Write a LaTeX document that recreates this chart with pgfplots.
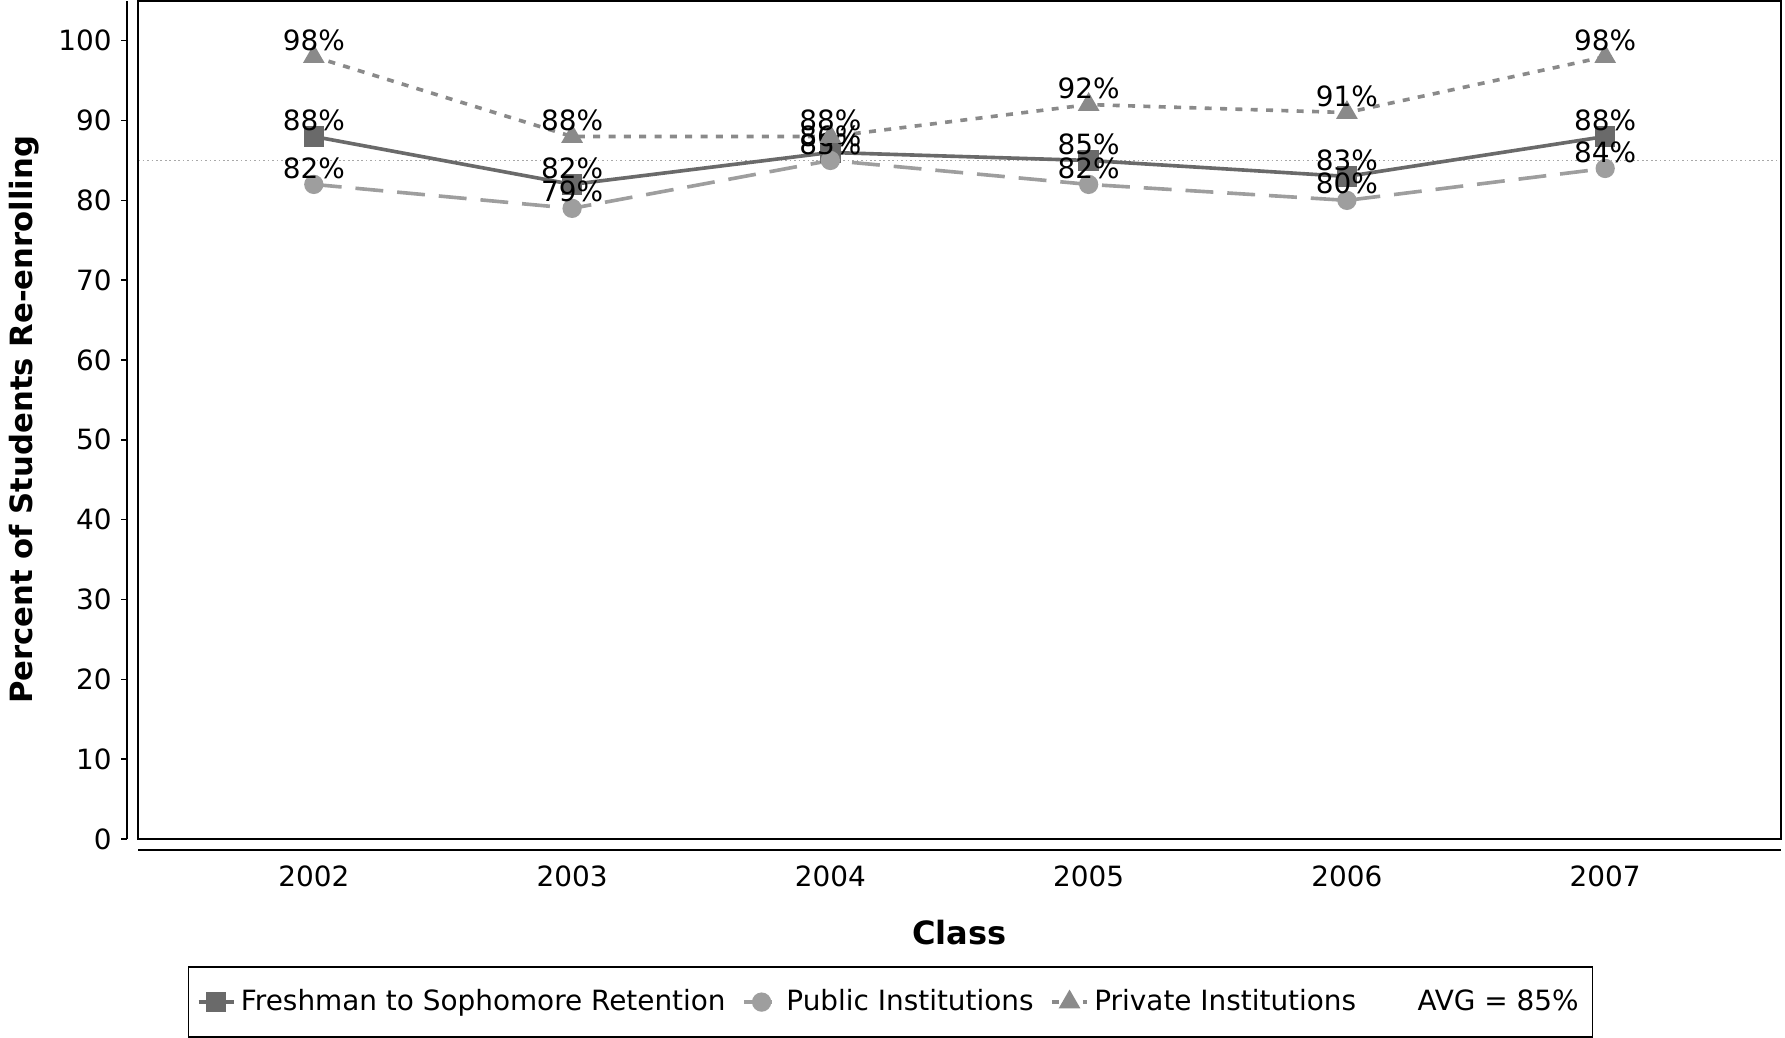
\documentclass[border=0pt]{standalone}
\usepackage{fontspec}
\setmainfont{DejaVu Sans}
\usepackage{pgfplots}
\pgfplotsset{compat=1.18}

\definecolor{fresh}{HTML}{6A6A6A}
\definecolor{public}{HTML}{9E9E9E}
\definecolor{private}{HTML}{8A8A8A}
\definecolor{avgline}{HTML}{A8A8A8}

\begin{document}
\begin{tikzpicture}
\begin{axis}[
    scale only axis,
    width=589pt, height=300.5pt,
    xmin=-0.68, xmax=5.68,
    ymin=0, ymax=105,
    xtick={0,1,2,3,4,5},
    xticklabels={2002,2003,2004,2005,2006,2007},
    ytick={0,10,...,100},
    axis x line*=bottom, axis y line*=left,
    axis x line shift=4pt, axis y line shift=4pt,
    axis line style={-, black, line width=0.6pt},
    tick align=outside,
    major tick length=2pt,
    xtick style={draw=none},
    ytick style={black, line width=0.5pt},
    ticklabel style={font=\fontsize{10}{12}\selectfont},
    /pgf/number format/assume math mode=true,
    xlabel={Class},
    ylabel={Percent of Students Re-enrolling},
    xlabel style={font=\fontsize{11.5}{13}\selectfont\bfseries, yshift=-5pt},
    ylabel style={font=\fontsize{11}{13}\selectfont\bfseries},
    nodes near coords={\pgfmathprintnumber{\pgfplotspointmeta}\%},
    every node near coord/.append style={font=\fontsize{10}{12}\selectfont, text=black, anchor=south, inner sep=1.5pt},
    legend style={at={(0.458,-0.152)}, anchor=north, legend columns=4,
        draw=black, line width=0.6pt, font=\fontsize{10}{12}\selectfont,
        inner xsep=3pt, inner ysep=6pt,
        /tikz/every even column/.append style={column sep=4pt}},
    legend cell align=left,
    legend image code/.code={%
        \draw[mark repeat=2, mark phase=2]
        plot coordinates {(0cm,0cm) (0.22cm,0cm) (0.44cm,0cm)};},
    clip=false,
]
\addplot[avgline, line width=0.6pt, densely dotted, forget plot, nodes near coords={}]
    coordinates {(-0.68,85) (5.68,85)};

\addplot[fresh, line width=1.3pt, mark=square*, mark size=3pt, mark options={solid}]
    coordinates {(0,88) (1,82) (2,86) (3,85) (4,83) (5,88)};
\addlegendentry{Freshman to Sophomore Retention}

\addplot[public, line width=1.3pt, dash pattern=on 10pt off 5pt, mark=*, mark size=2.8pt, mark options={solid}]
    coordinates {(0,82) (1,79) (2,85) (3,82) (4,80) (5,84)};
\addlegendentry{Public Institutions}

\addplot[private, line width=1.3pt, dash pattern=on 2.5pt off 3pt, mark=triangle*, mark size=3.2pt, mark options={solid}]
    coordinates {(0,98) (1,88) (2,88) (3,92) (4,91) (5,98)};
\addlegendentry{Private Institutions}

\addlegendimage{empty legend}
\addlegendentry{\hspace{1.4em}AVG = 85\%}

\draw[black, line width=0.5pt] (rel axis cs:0,0) rectangle (rel axis cs:1,1);
\end{axis}
\end{tikzpicture}
\end{document}
